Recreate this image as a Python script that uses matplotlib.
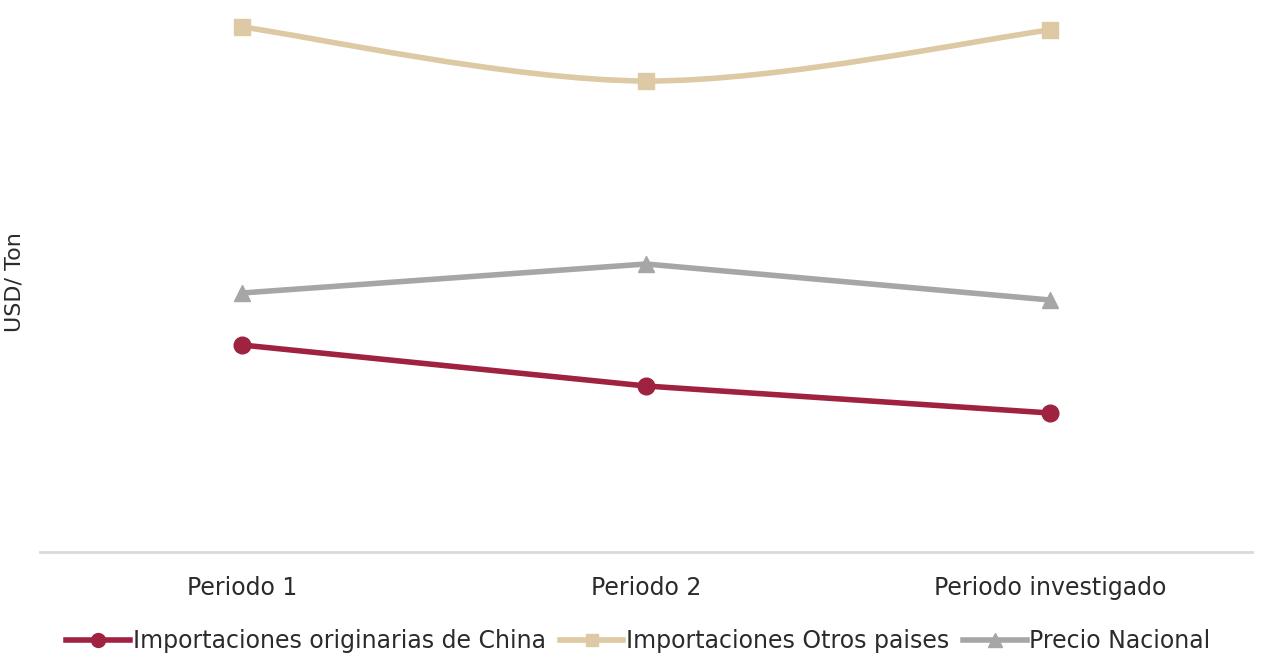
import numpy as np
import matplotlib.pyplot as plt
from matplotlib.path import Path
from matplotlib.patches import PathPatch
from matplotlib.lines import Line2D

plt.rcParams['font.family'] = ['DejaVu Sans']

periodos = ['Periodo 1', 'Periodo 2', 'Periodo investigado']
china = [207, 166, 139]
otros = [525, 471, 522]
nacional = [259, 288, 252]

rojo = '#9F2241'
beige = '#DDC9A3'
gris = '#A6A6A6'
texto = '#2b2b2b'

fig = plt.figure(figsize=(12.77, 6.62), dpi=100)
ax = fig.add_axes([40 / 1277, 110 / 662, 1212 / 1277, 540 / 662])

x = np.arange(len(periodos))


def smooth_path(xs, ys):
    """curva suavizada tipo excel (bezier)"""
    pts = np.column_stack([xs, ys]).astype(float)
    ext = np.vstack([pts[0], pts, pts[-1]])
    verts = [pts[0]]
    codes = [Path.MOVETO]
    for i in range(len(pts) - 1):
        p0, p1, p2, p3 = ext[i], ext[i + 1], ext[i + 2], ext[i + 3]
        c1 = p1 + (p2 - p0) / 6
        c2 = p2 - (p3 - p1) / 6
        verts += [c1, c2, p2]
        codes += [Path.CURVE4] * 3
    return Path(verts, codes)


ax.add_patch(PathPatch(smooth_path(x, otros), fill=False, edgecolor=beige,
                       lw=4.0, capstyle='round', zorder=2))
ax.plot(x, otros, ls='none', marker='s', ms=11, color=beige, zorder=3)
ax.plot(x, nacional, color=gris, lw=4.0, marker='^', ms=12, zorder=3)
ax.plot(x, china, color=rojo, lw=4.0, marker='o', ms=12, zorder=3)

ax.set_xlim(-0.5, 2.5)
ax.set_ylim(0, 540)
ax.set_yticks([])
ax.set_xticks(x)
ax.set_xticklabels(periodos, fontsize=17, color=texto)
ax.tick_params(axis='x', length=0, pad=17)
for s in ['top', 'right', 'left']:
    ax.spines[s].set_visible(False)
ax.spines['bottom'].set_color('#D9D9D9')
ax.spines['bottom'].set_linewidth(2)
ax.set_ylabel('USD/ Ton', fontsize=16, color=texto)
ax.yaxis.set_label_coords(-0.013, 0.5)

handles = [
    Line2D([], [], color=rojo, lw=4.0, marker='o', ms=10),
    Line2D([], [], color=beige, lw=4.0, marker='s', ms=9),
    Line2D([], [], color=gris, lw=4.0, marker='^', ms=10),
]
labels = ['Importaciones originarias de China', 'Importaciones Otros paises', 'Precio Nacional']
fig.legend(handles, labels, loc='center', bbox_to_anchor=(0.5, 21 / 662), ncol=3,
           frameon=False, fontsize=17, handlelength=2.7, handletextpad=0.1,
           columnspacing=0.6, labelcolor=texto)

fig.savefig('out.png', dpi=100)
